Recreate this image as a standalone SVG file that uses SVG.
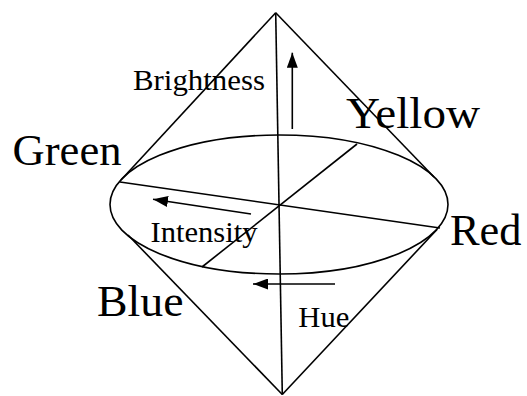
<svg xmlns="http://www.w3.org/2000/svg" width="527" height="396" viewBox="0 0 527 396">
  <style>
    .ln { stroke: #000; stroke-width: 1.6; fill: none; }
    .big { font-family: "Liberation Serif", "Times New Roman", serif; font-size: 45px; fill: #000; }
    .small { font-family: "Liberation Serif", "Times New Roman", serif; font-size: 30px; fill: #000; }
  </style>
  <defs>
    <marker id="ah" viewBox="0 0 15 11" refX="15" refY="5.5" markerWidth="15" markerHeight="11" markerUnits="userSpaceOnUse" orient="auto">
      <path d="M0,0 L15,5.5 L0,11 z" fill="#000"/>
    </marker>
  </defs>
  <rect width="527" height="396" fill="#fff"/>

  <g id="bicone">
    <ellipse class="ln" cx="279" cy="204.5" rx="169" ry="69.5"/>
    <line class="ln" x1="275.7" y1="12.7" x2="121" y2="180"/>
    <line class="ln" x1="275.7" y1="12.7" x2="434" y2="177"/>
    <line class="ln" x1="128" y1="235" x2="282.3" y2="394.5"/>
    <line class="ln" x1="437" y1="229.5" x2="282.3" y2="394.5"/>
  </g>

  <g id="axes">
    <line class="ln" x1="275.7" y1="12.7" x2="282.3" y2="394.5"/>
    <line class="ln" x1="120" y1="182" x2="440" y2="228"/>
    <line class="ln" x1="357" y1="144" x2="202" y2="267"/>
  </g>

  <g id="connectors">
    <line class="ln" x1="292.3" y1="129" x2="292.3" y2="52.7" marker-end="url(#ah)"/>
    <line class="ln" x1="251" y1="214" x2="153" y2="199.3" marker-end="url(#ah)"/>
    <line class="ln" x1="335" y1="284" x2="253" y2="284" marker-end="url(#ah)"/>
  </g>

  <g id="label-brightness"><text class="small" x="133" y="90" textLength="132" lengthAdjust="spacingAndGlyphs">Brightness</text></g>
  <g id="label-yellow"><text class="big" x="346" y="128.3" textLength="134" lengthAdjust="spacingAndGlyphs">Yellow</text></g>
  <g id="label-green"><text class="big" x="12.5" y="165" textLength="109" lengthAdjust="spacingAndGlyphs">Green</text></g>
  <g id="label-intensity"><text class="small" x="150.5" y="241.7" textLength="107" lengthAdjust="spacingAndGlyphs">Intensity</text></g>
  <g id="label-red"><text class="big" x="450" y="245" textLength="71.5" lengthAdjust="spacingAndGlyphs">Red</text></g>
  <g id="label-blue"><text class="big" x="97" y="315.7" textLength="86.5" lengthAdjust="spacingAndGlyphs">Blue</text></g>
  <g id="label-hue"><text class="small" x="298.3" y="326.7" textLength="51" lengthAdjust="spacingAndGlyphs">Hue</text></g>
</svg>
